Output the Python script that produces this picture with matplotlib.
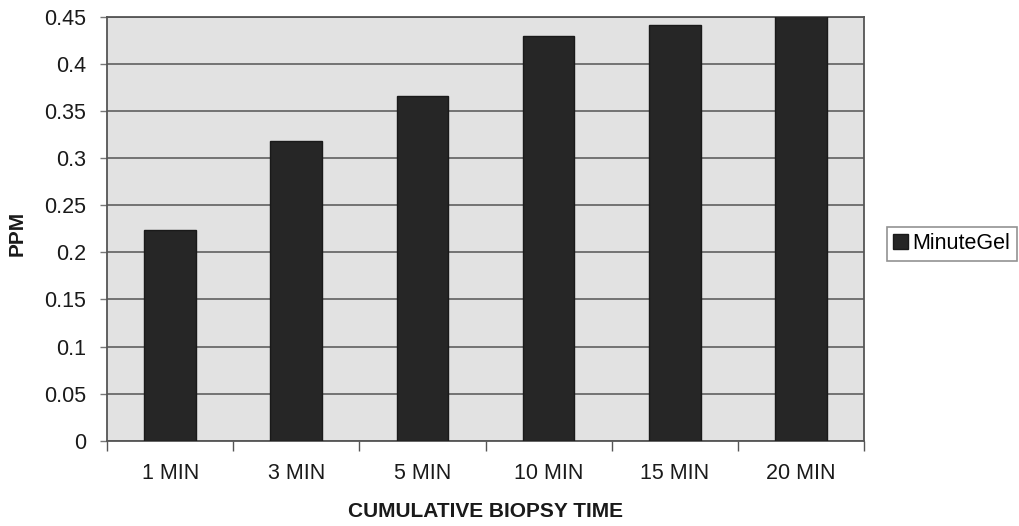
import matplotlib
matplotlib.use("Agg")
import matplotlib.pyplot as plt
import numpy as np

categories = ["1 MIN", "3 MIN", "5 MIN", "10 MIN", "15 MIN", "20 MIN"]
values = [0.224, 0.318, 0.366, 0.430, 0.441, 0.470]
yticks = [0, 0.05, 0.1, 0.15, 0.2, 0.25, 0.3, 0.35, 0.4, 0.45]
ytick_labels = ["0", "0.05", "0.1", "0.15", "0.2", "0.25", "0.3", "0.35", "0.4", "0.45"]
series_name = "MinuteGel"

plt.rcParams['font.family'] = ['Liberation Sans', 'DejaVu Sans']

fig = plt.figure(figsize=(10.2, 5.26), dpi=100)
ax = fig.add_axes([0.105, 0.162, 0.742, 0.806])
ax.set_facecolor("#e2e2e2")

x = np.arange(len(categories))
ax.bar(x, values, width=0.41, color="#262626", edgecolor="#1a1a1a", linewidth=1,
       label=series_name, zorder=3)

ax.set_xlim(-0.5, len(categories) - 0.5)
ax.set_ylim(0, 0.45)
ax.set_yticks(yticks)
ax.set_yticklabels(ytick_labels)
ax.yaxis.grid(True, color="#555555", linewidth=1.1, zorder=1)
ax.set_axisbelow(True)

ax.set_xticks(x)
ax.set_xticklabels(categories)
ax.set_xticks(np.arange(-0.5, len(categories) + 0.5, 1), minor=True)
ax.tick_params(axis='x', which='major', length=0, pad=16, labelsize=15.5, colors="#1a1a1a")
ax.tick_params(axis='x', which='minor', length=7, width=1, color="#555555", direction='out')
ax.tick_params(axis='y', which='major', length=5, width=1, color="#777777", pad=10,
               labelsize=15.5, labelcolor="#1a1a1a")

for s in ax.spines.values():
    s.set_color("#555555")
    s.set_linewidth(1.3)

ax.set_xlabel("CUMULATIVE BIOPSY TIME", fontsize=15, fontweight='bold', color="#1a1a1a")
ax.set_ylabel("PPM", fontsize=15, fontweight='bold', color="#1a1a1a")
ax.xaxis.set_label_coords(0.5, -0.145)
ax.yaxis.set_label_coords(-0.106, 0.49)

leg = ax.legend(loc='center left', bbox_to_anchor=(1.03, 0.465), fontsize=15.5,
                frameon=True, fancybox=False, edgecolor="#777777",
                handlelength=0.7, handleheight=0.7, handletextpad=0.2,
                borderpad=0.3, borderaxespad=0)
leg.get_frame().set_linewidth(1.2)

fig.savefig("out.png", dpi=100, facecolor="white")
